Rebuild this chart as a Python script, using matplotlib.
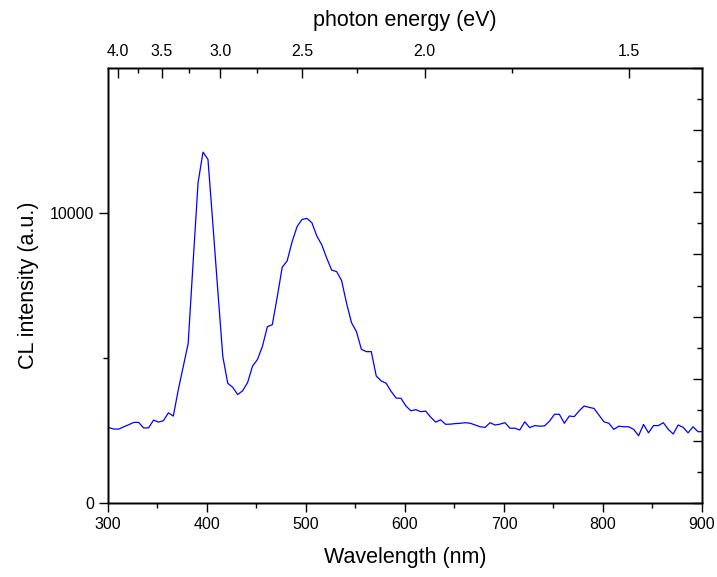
import matplotlib
matplotlib.use('Agg')
import matplotlib.pyplot as plt
import numpy as np

matplotlib.rcParams['font.family'] = ['Liberation Sans', 'DejaVu Sans']
matplotlib.rcParams['axes.linewidth'] = 1.0

# wavelength grid (nm), spectrometer step of 5 nm
wavelength = np.arange(296, 902, 5)
intensity = [2600, 2600, 2550, 2550, 2630, 2700, 2780, 2780, 2590, 2590,
             2860, 2790, 2840, 3110, 3000, 3900, 4700, 5500, 8300, 11050,
             12100, 11850, 9600, 7300, 5050, 4130, 3990, 3740, 3870, 4150,
             4720, 4950, 5400, 6080, 6150, 7110, 8130, 8350, 9010, 9530,
             9780, 9815, 9665, 9205, 8900, 8440, 8030, 7980, 7670, 6890,
             6220, 5910, 5300, 5220, 5220, 4380, 4210, 4130, 3850, 3620,
             3610, 3345, 3180, 3220, 3150, 3170, 2960, 2790, 2870, 2715,
             2720, 2740, 2750, 2770, 2750, 2690, 2630, 2610, 2770, 2690,
             2720, 2770, 2580, 2580, 2520, 2800, 2600, 2670, 2650, 2660,
             2820, 3060, 3060, 2750, 3000, 2980, 3180, 3345, 3300, 3260,
             3030, 2800, 2750, 2540, 2650, 2630, 2630, 2540, 2320, 2710,
             2420, 2670, 2670, 2770, 2540, 2380, 2690, 2610, 2420, 2630,
             2460, 2460]

energy_major = [4.0, 3.5, 3.0, 2.5, 2.0, 1.5]
energy_minor = [3.75, 3.25, 2.75, 2.25, 1.75]

fig = plt.figure(figsize=(7.17, 5.77), dpi=100)
ax = fig.add_axes([0.1506, 0.1282, 0.8284, 0.7539])

ax.plot(wavelength, intensity, color='blue', linewidth=0.9)
ax.set_xlim(300, 900)
ax.set_ylim(0, 15000)
ax.set_xticks([300, 400, 500, 600, 700, 800, 900])
ax.set_xticks([350, 450, 550, 650, 750, 850], minor=True)
ax.set_yticks([0, 10000])
ax.set_yticks([5000], minor=True)
ax.tick_params(which='both', direction='out', labelsize=11.5, width=1.0,
               right=False, top=False)
ax.tick_params(which='major', length=6.5)
ax.tick_params(which='minor', length=3.5)
ax.set_xlabel('Wavelength (nm)', fontsize=15.5, labelpad=10.5)
ax.set_ylabel('CL intensity (a.u.)', fontsize=15.5, labelpad=8)

# right side: inward ticks without labels
axr = ax.twinx()
axr.set_ylim(0, 7)
axr.set_yticks(range(8))
axr.set_yticks(np.arange(0.5, 7, 1), minor=True)
axr.tick_params(which='both', direction='in', labelright=False, width=1.0)
axr.tick_params(which='major', length=6.5)
axr.tick_params(which='minor', length=3.5)

# top: photon energy scale
axt = ax.twiny()
axt.set_xlim(300, 900)
axt.set_xticks([1240 / e for e in energy_major])
axt.set_xticklabels(['%.1f' % e for e in energy_major])
axt.set_xticks([1240 / e for e in energy_minor], minor=True)
axt.tick_params(which='both', direction='in', labelsize=11.5, width=1.0, pad=6.5)
axt.tick_params(which='major', length=7)
axt.tick_params(which='minor', length=3.5)
axt.set_xlabel('photon energy (eV)', fontsize=15.5, labelpad=13)

fig.savefig('out.png', dpi=100)
